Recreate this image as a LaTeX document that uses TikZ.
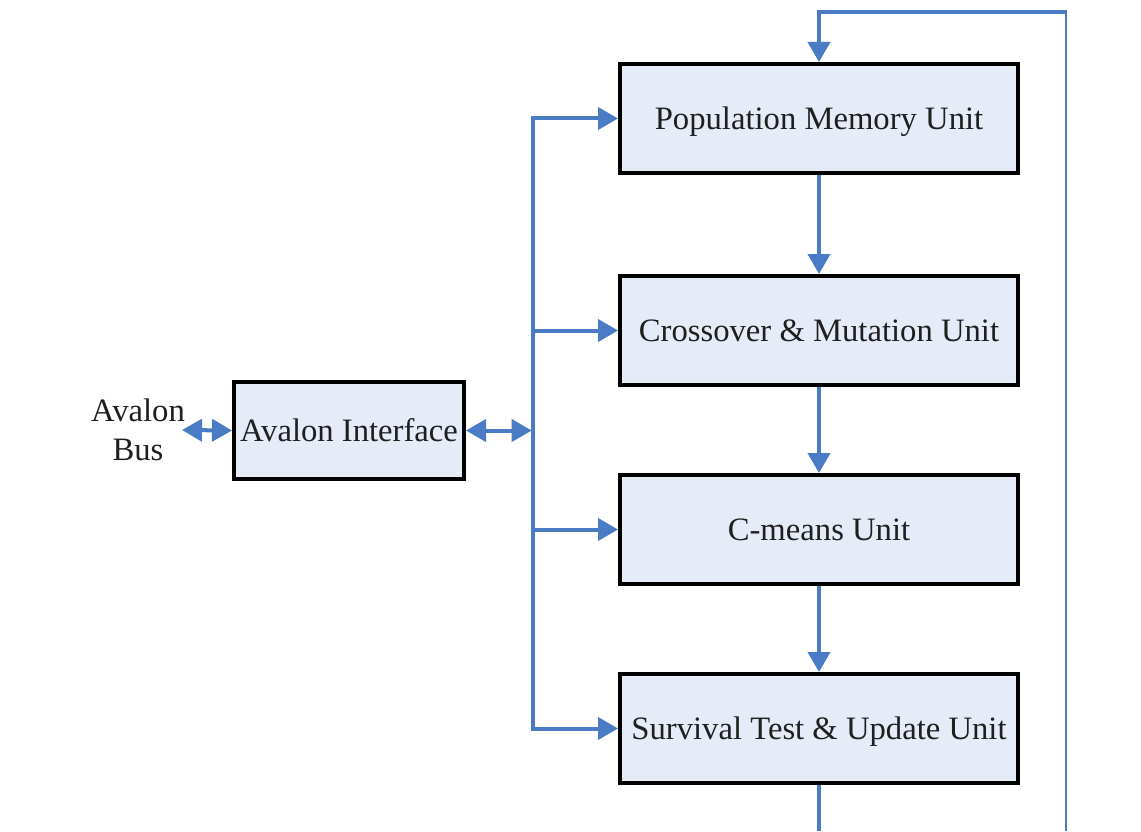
\documentclass[tikz,border=0pt]{standalone}
\usepackage{fontspec}
\setmainfont{Liberation Serif}
\usetikzlibrary{arrows.meta}
\definecolor{linkblue}{HTML}{4A7BC5}
\definecolor{boxfill}{HTML}{E6ECF7}
\begin{document}
\begin{tikzpicture}[x=0.75pt,y=-0.75pt,
  label/.style={font=\fontsize{24.5}{29}\selectfont, text=black!88},
  unit/.style={label, draw=black, line width=3pt, fill=boxfill,
    minimum width=298.5pt, minimum height=81.75pt, inner sep=0pt,
    text height=17pt, text depth=0pt},
  iface/.style={unit, minimum width=172.5pt, minimum height=72.75pt},
  link/.style={draw=linkblue, line width=3pt, line join=miter},
  thinlink/.style={draw=linkblue, line width=1.6pt},
  tip/.style={-{Triangle[length=15pt,width=16.5pt]}},
  dtip/.style={{Triangle[length=15pt,width=16.5pt]}-{Triangle[length=15pt,width=16.5pt]}}
]
\useasboundingbox (0,0) rectangle (1141,831);

% processing units
\node[unit] (pop)   at (819,118.5) {Population Memory Unit};
\node[unit] (cross) at (819,330.5) {Crossover \& Mutation Unit};
\node[unit] (cmean) at (819,529.5) {C-means Unit};
\node[unit] (surv)  at (819,728.5) {Survival Test \& Update Unit};

% bus interface
\node[iface] (avi) at (349,430.5) {Avalon Interface};
\node[label, align=center, inner sep=0pt] (bus) at (138,430) {Avalon\\Bus};

% helper coordinates
\coordinate (busx) at (533,0);
\coordinate (busend) at (182,430);
\coordinate (fbdown) at (818,831);
\coordinate (fbright) at (1066,831);
\coordinate (fbtop) at (1066,12);

% shared bus line: first and last branch drawn with it
\draw[link,dtip] (pop.west) -- (pop.west -| busx) -- (surv.west -| busx) -- (surv.west);
\draw[link,tip] (cross.west -| busx) -- (cross.west);
\draw[link,tip] (cmean.west -| busx) -- (cmean.west);

% bidirectional links
\draw[link,dtip] (avi.east) -- ([xshift=-1pt]avi.east -| busx);
\draw[link,dtip] (busend) -- (avi.west);

% processing chain
\draw[link,tip] (pop.south) -- (cross.north);
\draw[link,tip] (cross.south) -- (cmean.north);
\draw[link,tip] (cmean.south) -- (surv.north);

% feedback path
\draw[link] (surv.south) -- (surv.south |- fbdown);
\draw[thinlink] (fbright) -- (fbtop);
\draw[link,tip] ([xshift=0.8pt]fbtop) -- (pop.north |- fbtop) -- (pop.north);
\end{tikzpicture}
\end{document}
